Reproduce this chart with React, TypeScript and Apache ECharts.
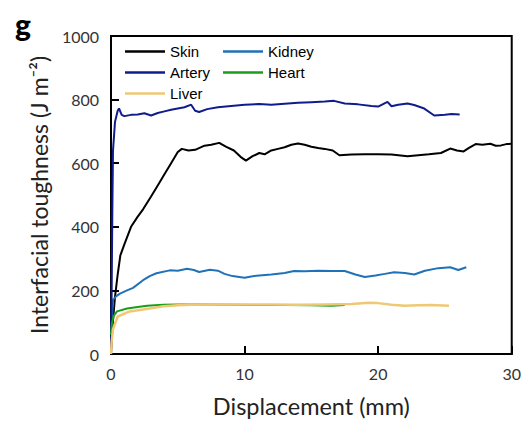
import React, { useEffect, useRef } from "react";
import * as echarts from "echarts";

const skin: [number, number][] = [
  [0, 0], [0.1, 80], [0.3, 180], [0.5, 250], [0.7, 310], [1.0, 345], [1.5, 400], [2.0, 432], [2.4, 455],
  [3.0, 495], [3.5, 530], [4.0, 565], [4.5, 600], [5.0, 635], [5.3, 645], [5.8, 640], [6.3, 642], [7.0, 655],
  [7.5, 658], [8.1, 664], [8.6, 652], [9.2, 640], [9.7, 620], [10.1, 608], [10.6, 622], [11.1, 632], [11.5, 628],
  [12.0, 640], [12.5, 645], [13.0, 650], [13.5, 658], [14.0, 662], [14.5, 658], [15.0, 652], [15.5, 648],
  [16.0, 645], [16.6, 640], [17.1, 625], [18.0, 627], [19.0, 628], [20.0, 628], [21.0, 627], [22.2, 622],
  [23.0, 625], [23.8, 628], [24.7, 632], [25.4, 646], [25.9, 640], [26.4, 637], [26.8, 648], [27.3, 660],
  [27.8, 658], [28.4, 661], [28.8, 655], [29.2, 656], [29.6, 660], [30, 661],
];

const artery: [number, number][] = [
  [0, 0], [0.05, 200], [0.1, 450], [0.15, 640], [0.3, 730], [0.5, 765], [0.6, 772], [0.8, 752], [1.0, 748],
  [1.5, 752], [2.0, 753], [2.5, 757], [3.0, 750], [3.5, 758], [4.0, 763], [4.5, 768], [5.0, 772], [5.5, 776],
  [6.0, 784], [6.3, 765], [6.6, 761], [7.2, 770], [8.0, 776], [9.0, 780], [10.0, 784], [11.1, 786], [12.0, 784],
  [13.0, 787], [14.0, 790], [15.0, 792], [16.0, 794], [16.7, 796], [17.5, 788], [18.5, 785], [19.5, 780],
  [20.0, 778], [20.7, 793], [21.0, 779], [21.5, 784], [22.2, 788], [22.7, 783], [23.4, 773], [24.2, 750],
  [25.0, 752], [25.5, 755], [26.1, 753],
];

const kidney: [number, number][] = [
  [0, 60], [0.15, 170], [0.4, 182], [0.67, 190], [1.2, 200], [1.65, 208], [2.4, 232], [2.9, 245], [3.4, 254],
  [4.4, 263], [5.0, 262], [5.7, 268], [6.2, 264], [6.6, 258], [7.4, 265], [8.0, 262], [8.5, 252], [9.1, 245],
  [10.0, 240], [10.5, 244], [11.1, 247], [12.0, 250], [13.0, 255], [13.7, 261], [14.5, 260], [15.5, 262],
  [16.5, 261], [17.5, 261], [18.3, 250], [19.0, 242], [19.8, 247], [20.5, 252], [21.2, 257], [22.0, 255],
  [22.7, 250], [23.5, 262], [24.5, 270], [25.4, 273], [26.0, 264], [26.6, 273],
];

const heart: [number, number][] = [
  [0, 60], [0.07, 96], [0.2, 120], [0.45, 134], [1.2, 143], [2.0, 148], [2.7, 152], [3.9, 155], [5, 156],
  [7, 156], [9, 155], [11, 154], [13, 154], [15, 153], [16.5, 152], [17.5, 154],
];

const liver: [number, number][] = [
  [0, 0], [0.05, 40], [0.15, 78], [0.5, 118], [1.4, 134], [2.9, 143], [3.9, 150], [5, 153], [6, 155],
  [8, 156], [10, 156], [12, 156], [14, 155], [16, 156], [18, 157], [19.3, 161], [20, 160], [21, 155],
  [22, 152], [23, 153], [24, 154], [25.3, 152],
];

const legendLeft = ["Skin", "Artery", "Liver"];
const legendRight = ["Kidney", "Heart"];

export default function App() {
  const ref = useRef<HTMLDivElement>(null);
  useEffect(() => {
    if (!ref.current) return;
    const chart = echarts.init(ref.current, undefined, { renderer: "svg" });
    const lineSeries = (name: string, data: [number, number][], color: string, width = 2) => ({
      name,
      type: "line",
      data,
      showSymbol: false,
      symbol: "none",
      lineStyle: { color, width },
      itemStyle: { color },
      z: 2,
    });
    const legendCommon = {
      orient: "vertical",
      top: 44,
      padding: 0,
      icon: "rect",
      itemWidth: 40,
      itemHeight: 2.5,
      itemGap: 6,
      textStyle: { fontFamily: "Liberation Sans", fontSize: 15, color: "#000", lineHeight: 14 },
    };
    chart.setOption({
      animation: false,
      title: {
        text: "g",
        left: 10,
        top: 4,
        textStyle: { fontFamily: "Lato", fontWeight: 900, fontSize: 30, color: "#000" },
      },
      legend: [
        { ...legendCommon, left: 125, data: legendLeft },
        { ...legendCommon, left: 223, data: legendRight },
      ],
      grid: {
        left: 111,
        top: 36,
        right: 11,
        bottom: 65,
        show: true,
        borderColor: "#000",
        borderWidth: 2,
        backgroundColor: "transparent",
      },
      xAxis: {
        type: "value",
        min: 0,
        max: 30,
        interval: 10,
        name: "Displacement (mm)",
        nameLocation: "middle",
        nameGap: 40,
        nameTextStyle: { fontFamily: "Lato", fontSize: 23.5, color: "#222" },
        axisLine: { show: true, lineStyle: { color: "#000", width: 2 } },
        axisTick: { show: true, inside: true, length: 8, lineStyle: { color: "#000", width: 2 } },
        axisLabel: { fontFamily: "Lato", fontSize: 16, color: "#333", margin: 11 },
        splitLine: { show: false },
      },
      yAxis: {
        type: "value",
        min: 0,
        max: 1000,
        interval: 200,
        name: "Interfacial toughness (J m\u207B\u00B2)",
        nameLocation: "middle",
        nameGap: 54,
        nameTextStyle: { fontFamily: "Lato", fontSize: 23, color: "#222" },
        axisLine: { show: true, lineStyle: { color: "#000", width: 2 } },
        axisTick: { show: true, inside: true, length: 8, lineStyle: { color: "#000", width: 2 } },
        axisLabel: {
          fontFamily: "Lato",
          fontSize: 16,
          color: "#333",
          margin: 12,
          padding: [4, 0, 0, 0],
          formatter: (v: number) => String(v),
        },
        splitLine: { show: false },
      },
      series: [
        lineSeries("Skin", skin, "#000000"),
        lineSeries("Kidney", kidney, "#1f72b8"),
        lineSeries("Artery", artery, "#101c8c"),
        lineSeries("Heart", heart, "#1a9e1a"),
        lineSeries("Liver", liver, "#efc874", 2.5),
      ],
    });
    return () => chart.dispose();
  }, []);
  return (
    <div
      ref={ref}
      style={{ position: "absolute", left: 0, top: 0, width: 524, height: 423 }}
    />
  );
}
